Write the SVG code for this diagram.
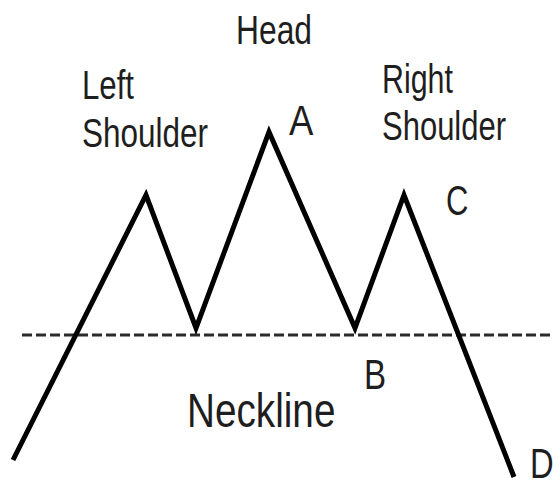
<svg xmlns="http://www.w3.org/2000/svg" width="558" height="487" viewBox="0 0 558 487">
  <style>
    .lbl { font-family: "Liberation Sans", Arial, sans-serif; fill: #1e1e1e; font-size: 40px; }
    .big { font-size: 49px; }
    .ltr { font-size: 43px; }
    .price { fill: none; stroke: #000; stroke-width: 5; stroke-linejoin: miter; stroke-miterlimit: 10; stroke-linecap: butt; }
    .neck { stroke: #2a2a2a; stroke-width: 3; stroke-dasharray: 10 4; }
  </style>
  <rect width="558" height="487" fill="#fff"/>
  <g id="connectors">
    <line id="neckline" class="neck" x1="22" y1="335" x2="552" y2="335"/>
    <polyline id="price" class="price" points="13,460 146,195 196,328 269,132 355,328 404,195 514,477"/>
  </g>
  <g id="labels">
    <g id="head"><text class="lbl" transform="translate(236 44) scale(0.795 1)">Head</text></g>
    <g id="left-shoulder">
      <text class="lbl" transform="translate(82 99) scale(0.78 1)">Left</text>
      <text class="lbl" transform="translate(82 147) scale(0.787 1)">Shoulder</text>
    </g>
    <g id="right-shoulder">
      <text class="lbl" transform="translate(382 93) scale(0.76 1)">Right</text>
      <text class="lbl" transform="translate(382 140) scale(0.775 1)">Shoulder</text>
    </g>
    <g id="point-a"><text class="lbl ltr" transform="translate(289 135) scale(0.85 1)">A</text></g>
    <g id="point-b"><text class="lbl ltr" transform="translate(364 389) scale(0.77 1)">B</text></g>
    <g id="point-c"><text class="lbl ltr" transform="translate(446 215) scale(0.72 1)">C</text></g>
    <g id="point-d"><text class="lbl" style="font-size:42px" transform="translate(530 478) scale(0.78 1)">D</text></g>
    <g id="neckline-label"><text class="lbl big" transform="translate(187 427) scale(0.79 1)">Neckline</text></g>
  </g>
</svg>
